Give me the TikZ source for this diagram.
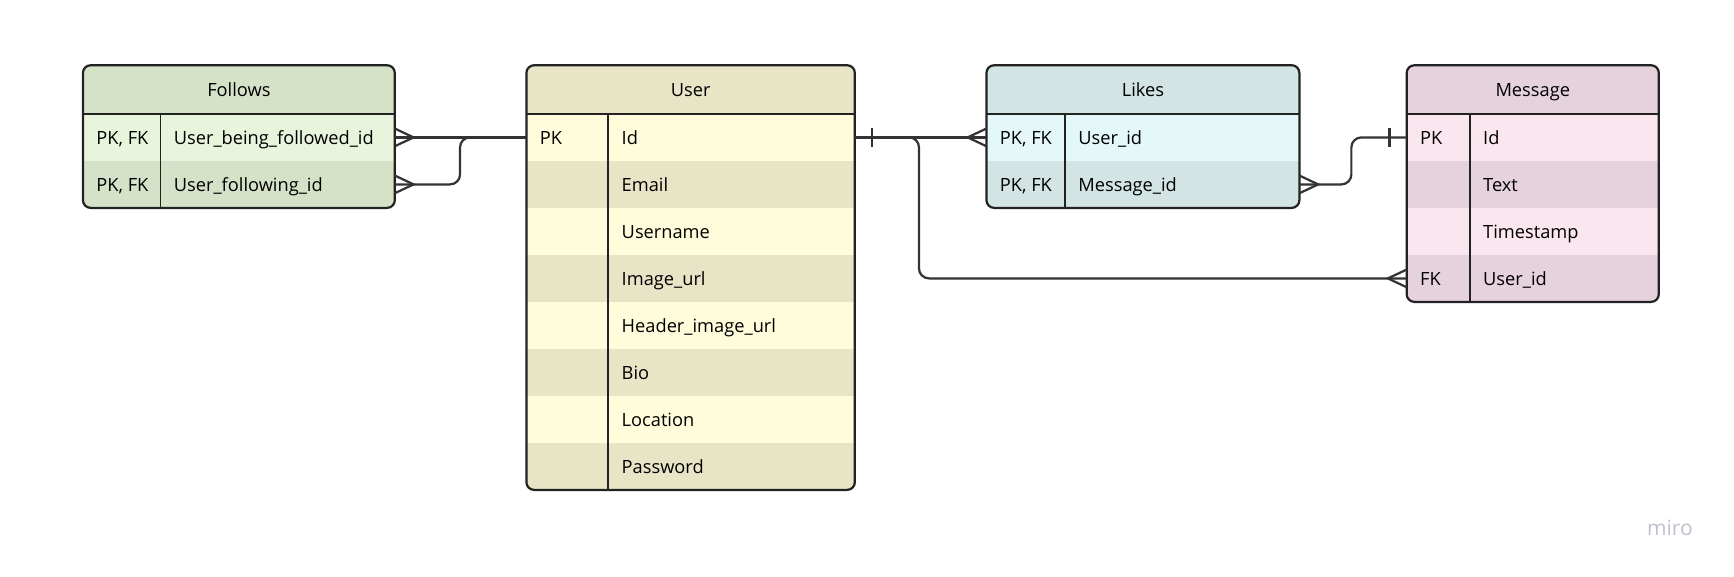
\documentclass[tikz,border=0pt]{standalone}
\usepackage{fontspec}
\setmainfont{Open Sans}
\usepackage{tikz}
\usepackage{xcolor}
\usetikzlibrary{positioning}

\definecolor{edge-col}{HTML}{222222}
\definecolor{conn-col}{HTML}{333333}
\definecolor{fol-dark}{HTML}{D6E2C8}
\definecolor{fol-light}{HTML}{E8F5DC}
\definecolor{usr-dark}{HTML}{E8E4C6}
\definecolor{usr-light}{HTML}{FEFCDB}
\definecolor{lik-dark}{HTML}{D2E4E4}
\definecolor{lik-light}{HTML}{E4F7F9}
\definecolor{msg-dark}{HTML}{E6D2DC}
\definecolor{msg-light}{HTML}{FAE6EE}
\definecolor{miro-col}{HTML}{BFC0CC}

\newcommand{\tblfont}{\fontsize{16.5}{20}\selectfont}

\tikzset{
    hdr-band/.style = {rectangle, anchor=north west, minimum height=44pt, inner sep=0pt, outer sep=0pt, font=\tblfont, text=black, text height=12pt, text depth=0pt},
    row-band/.style = {rectangle, anchor=north west, minimum height=42.5pt, inner sep=0pt, outer sep=0pt},
    cell-txt/.style = {inner sep=0pt, font=\tblfont, text=black, text height=12pt, text depth=0pt},
    tbl-edge/.style = {draw=edge-col, line width=2pt, rounded corners=7pt},
    tbl-line/.style = {draw=edge-col, line width=2pt},
    col-line/.style = {draw=edge-col, line width=1.5pt},
    conn/.style = {draw=conn-col, line width=2pt, rounded corners=9pt},
    conn-mark/.style = {draw=conn-col, line width=2pt, sharp corners},
}

% crow's foot and bar at an entity border; #2 = 1 when the line leaves to the right
\newcommand{\manyend}[2]{\draw[conn-mark] ([yshift=8pt]#1) -- ([xshift=#2*17pt]#1) -- ([yshift=-8pt]#1);}
\newcommand{\oneend}[2]{\draw[conn-mark] ([xshift=#2*15.5pt, yshift=8.5pt]#1) -- ([xshift=#2*15.5pt, yshift=-8.5pt]#1);}

\begin{document}
\begin{tikzpicture}[x=1pt, y=-1pt]
\useasboundingbox (0,0) rectangle (1568,521);

% Follows
\begin{scope}
\clip[rounded corners=7pt] (75,59) rectangle ++(282,129);
\node[hdr-band, minimum width=282pt, fill=fol-dark] (fol-hdr) at (75,59) {Follows};
\node[row-band, minimum width=282pt, fill=fol-light] (fol-1) at (fol-hdr.south west) {};
\node[row-band, minimum width=282pt, fill=fol-dark] (fol-2) at (fol-1.south west) {};
\end{scope}
\node[cell-txt, right=12pt of fol-1.west] (fol-1-key) {PK, FK};
\node[cell-txt, right=82pt of fol-1.west] (fol-1-name) {User\_being\_followed\_id};
\node[cell-txt, right=12pt of fol-2.west] (fol-2-key) {PK, FK};
\node[cell-txt, right=82pt of fol-2.west] (fol-2-name) {User\_following\_id};
\draw[col-line] ([xshift=70pt]fol-1.north west) -- ([xshift=70pt]fol-2.south west);
\draw[tbl-line] (fol-hdr.south west) -- (fol-hdr.south east);
\draw[tbl-edge] (fol-hdr.north west) rectangle (fol-2.south east);

% User
\begin{scope}
\clip[rounded corners=7pt] (476,59) rectangle ++(297,384);
\node[hdr-band, minimum width=297pt, fill=usr-dark] (usr-hdr) at (476,59) {User};
\node[row-band, minimum width=297pt, fill=usr-light] (usr-1) at (usr-hdr.south west) {};
\node[row-band, minimum width=297pt, fill=usr-dark] (usr-2) at (usr-1.south west) {};
\node[row-band, minimum width=297pt, fill=usr-light] (usr-3) at (usr-2.south west) {};
\node[row-band, minimum width=297pt, fill=usr-dark] (usr-4) at (usr-3.south west) {};
\node[row-band, minimum width=297pt, fill=usr-light] (usr-5) at (usr-4.south west) {};
\node[row-band, minimum width=297pt, fill=usr-dark] (usr-6) at (usr-5.south west) {};
\node[row-band, minimum width=297pt, fill=usr-light] (usr-7) at (usr-6.south west) {};
\node[row-band, minimum width=297pt, fill=usr-dark] (usr-8) at (usr-7.south west) {};
\end{scope}
\node[cell-txt, right=12pt of usr-1.west] (usr-1-key) {PK};
\node[cell-txt, right=86pt of usr-1.west] (usr-1-name) {Id};
\node[cell-txt, right=86pt of usr-2.west] (usr-2-name) {Email};
\node[cell-txt, right=86pt of usr-3.west] (usr-3-name) {Username};
\node[cell-txt, right=86pt of usr-4.west] (usr-4-name) {Image\_url};
\node[cell-txt, right=86pt of usr-5.west] (usr-5-name) {Header\_image\_url};
\node[cell-txt, right=86pt of usr-6.west] (usr-6-name) {Bio};
\node[cell-txt, right=86pt of usr-7.west] (usr-7-name) {Location};
\node[cell-txt, right=86pt of usr-8.west] (usr-8-name) {Password};
\draw[col-line] ([xshift=74pt]usr-1.north west) -- ([xshift=74pt]usr-8.south west);
\draw[tbl-line] (usr-hdr.south west) -- (usr-hdr.south east);
\draw[tbl-edge] (usr-hdr.north west) rectangle (usr-8.south east);

% Likes
\begin{scope}
\clip[rounded corners=7pt] (892,59) rectangle ++(283,129);
\node[hdr-band, minimum width=283pt, fill=lik-dark] (lik-hdr) at (892,59) {Likes};
\node[row-band, minimum width=283pt, fill=lik-light] (lik-1) at (lik-hdr.south west) {};
\node[row-band, minimum width=283pt, fill=lik-dark] (lik-2) at (lik-1.south west) {};
\end{scope}
\node[cell-txt, right=12pt of lik-1.west] (lik-1-key) {PK, FK};
\node[cell-txt, right=83pt of lik-1.west] (lik-1-name) {User\_id};
\node[cell-txt, right=12pt of lik-2.west] (lik-2-key) {PK, FK};
\node[cell-txt, right=83pt of lik-2.west] (lik-2-name) {Message\_id};
\draw[col-line] ([xshift=71pt]lik-1.north west) -- ([xshift=71pt]lik-2.south west);
\draw[tbl-line] (lik-hdr.south west) -- (lik-hdr.south east);
\draw[tbl-edge] (lik-hdr.north west) rectangle (lik-2.south east);

% Message
\begin{scope}
\clip[rounded corners=7pt] (1272,59) rectangle ++(228,214);
\node[hdr-band, minimum width=228pt, fill=msg-dark] (msg-hdr) at (1272,59) {Message};
\node[row-band, minimum width=228pt, fill=msg-light] (msg-1) at (msg-hdr.south west) {};
\node[row-band, minimum width=228pt, fill=msg-dark] (msg-2) at (msg-1.south west) {};
\node[row-band, minimum width=228pt, fill=msg-light] (msg-3) at (msg-2.south west) {};
\node[row-band, minimum width=228pt, fill=msg-dark] (msg-4) at (msg-3.south west) {};
\end{scope}
\node[cell-txt, right=12pt of msg-1.west] (msg-1-key) {PK};
\node[cell-txt, right=69pt of msg-1.west] (msg-1-name) {Id};
\node[cell-txt, right=69pt of msg-2.west] (msg-2-name) {Text};
\node[cell-txt, right=69pt of msg-3.west] (msg-3-name) {Timestamp};
\node[cell-txt, right=12pt of msg-4.west] (msg-4-key) {FK};
\node[cell-txt, right=69pt of msg-4.west] (msg-4-name) {User\_id};
\draw[col-line] ([xshift=57pt]msg-1.north west) -- ([xshift=57pt]msg-4.south west);
\draw[tbl-line] (msg-hdr.south west) -- (msg-hdr.south east);
\draw[tbl-edge] (msg-hdr.north west) rectangle (msg-4.south east);

% relations
\draw[conn] (usr-1.west) -- (fol-1.east);
\draw[conn] (usr-1.west) -- ++(-60,0) |- (fol-2.east);
\manyend{fol-1.east}{1}
\manyend{fol-2.east}{1}

\draw[conn] (usr-1.east) -- (lik-1.west);
\draw[conn] (usr-1.east) -- ++(58,0) |- (msg-4.west);
\oneend{usr-1.east}{1}
\manyend{lik-1.west}{-1}
\manyend{msg-4.west}{-1}

\draw[conn] (lik-2.east) -- ++(47,0) |- (msg-1.west);
\manyend{lik-2.east}{1}
\oneend{msg-1.west}{-1}

\node[font=\fontsize{19}{22}\selectfont, text=miro-col, inner sep=0pt] (miro) at (1510,477) {miro};
\end{tikzpicture}
\end{document}
